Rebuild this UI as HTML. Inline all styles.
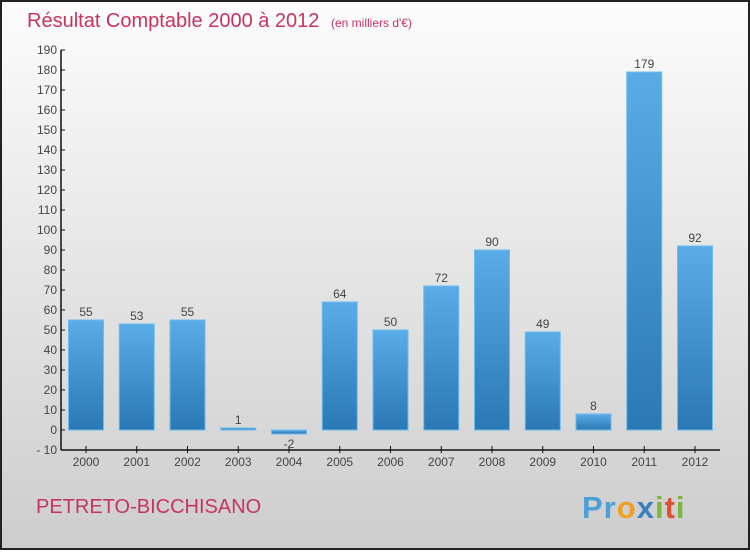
<!DOCTYPE html>
<html><head><meta charset="utf-8"><style>
html,body{margin:0;padding:0}
body{width:750px;height:550px;overflow:hidden;font-family:"Liberation Sans",sans-serif}
</style></head><body>
<svg width="750" height="550" xmlns="http://www.w3.org/2000/svg">
<defs>
<linearGradient id="bg" x1="0" y1="0" x2="0" y2="1"><stop offset="0" stop-color="#fcfcfc"/><stop offset="1" stop-color="#cdcdcd"/></linearGradient>
<linearGradient id="bar" x1="0" y1="0" x2="0" y2="1"><stop offset="0" stop-color="#5aace6"/><stop offset="1" stop-color="#2a78b4"/></linearGradient>
</defs>
<rect x="1" y="1" width="748" height="548" fill="url(#bg)" stroke="#222" stroke-width="2"/>
<text x="27" y="27" font-size="20" fill="#c8335f">Résultat Comptable 2000 à 2012 <tspan font-size="12" dx="6">(en milliers d'€)</tspan></text>
<text x="36" y="513" font-size="20" fill="#c8335f">PETRETO-BICCHISANO</text>
<text x="582" y="518" font-size="31" font-weight="bold" fill="#4aa0d8" letter-spacing="1"><tspan fill="#4aa0d8">Pr</tspan><tspan fill="#f0a020">o</tspan><tspan fill="#3a7fc0">x</tspan><tspan fill="#7ab83a">i</tspan><tspan fill="#e05030">t</tspan><tspan fill="#7ab83a">i</tspan></text>
<g id="axes"></g>
<g id="bars"></g>
</svg>
<script>
const years=["2000","2001","2002","2003","2004","2005","2006","2007","2008","2009","2010","2011","2012"];
const values=[55,53,55,1,-2,64,50,72,90,49,8,179,92];
const yTicks=[-10,0,10,20,30,40,50,60,70,80,90,100,110,120,130,140,150,160,170,180,190];
const NS="http://www.w3.org/2000/svg";
function y(v){return 430-v*2;}
function x(i){return 86+i*50.75;}
function mk(t,a,p){const e=document.createElementNS(NS,t);for(const k in a)e.setAttribute(k,a[k]);p.appendChild(e);return e;}
const ax=document.getElementById('axes'),bg=document.getElementById('bars');
const yl=mk('line',{x1:61,y1:y(190),x2:61,y2:y(-10),stroke:'#111','stroke-width':1.5},ax);


const xl=mk('line',{x1:61,y1:y(-10),x2:720,y2:y(-10),stroke:'#111','stroke-width':1.5},ax);


yTicks.forEach(v=>{
 mk('line',{x1:61,y1:y(v),x2:65,y2:y(v),stroke:'#111'},ax);
 const t=mk('text',{x:57,y:y(v)+4,'font-size':12,fill:'#444','text-anchor':'end'},ax);
 t.textContent=v<0?'- '+(-v):v;
 
 
});
years.forEach((yr,i)=>{
 mk('line',{x1:x(i),y1:y(-10)-4,x2:x(i),y2:y(-10)+3,stroke:'#111'},ax);
 const t=mk('text',{x:x(i),y:y(-10)+16,'font-size':12,fill:'#444','text-anchor':'middle'},ax);
 t.textContent=yr;
 
 
 const v=values[i];
 const top=Math.min(y(v),y(0)),h=Math.max(Math.abs(y(v)-y(0)),2);
 const r=mk('rect',{x:x(i)-17.5,y:top,width:35,height:h,fill:'url(#bar)',stroke:'#6bbcf0','stroke-width':1},bg);
 
 
 const l=mk('text',{x:x(i),y:v>=0?y(v)-4:y(v)+14,'font-size':12,fill:'#444','text-anchor':'middle'},bg);
 l.textContent=v;
 
 
});
</script>
</body></html>
